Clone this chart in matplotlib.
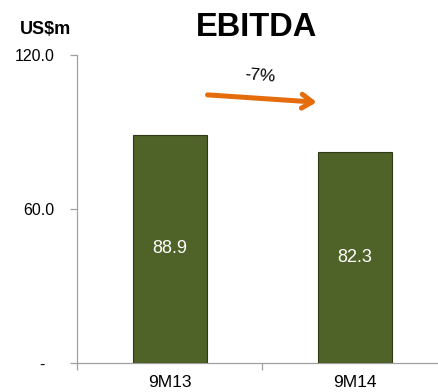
import matplotlib
matplotlib.use("Agg")
import matplotlib.pyplot as plt

categories = ["9M13", "9M14"]
ebitda = [88.9, 82.3]
y_ticks = [0, 60, 120]
y_tick_labels = ["-  ", "60.0", "120.0"]
change_label = "-7%"

plt.rcParams["font.family"] = ["Liberation Sans", "DejaVu Sans"]

fig = plt.figure(figsize=(4.38, 3.92), dpi=100)
ax = fig.add_axes([0.176, 0.074, 0.845, 0.786])

x = list(range(len(categories)))
bars = ax.bar(x, ebitda, width=0.4, color="#4F6228", edgecolor="#2E3A17", linewidth=0.8, zorder=3)
for xi, v in zip(x, ebitda):
    ax.text(xi, v / 2, f"{v:.1f}", color="white", ha="center", va="center", fontsize=13)

ax.set_xlim(-0.5, 1.5)
ax.set_ylim(0, 120)
ax.set_yticks(y_ticks)
ax.set_yticklabels(y_tick_labels, fontsize=11.5)
ax.set_xticks(x)
ax.set_xticklabels(categories, fontsize=12.5)
ax.set_xticks([-0.5, 0.5, 1.5], minor=True)
ax.tick_params(axis="x", which="major", length=0, pad=9)
ax.tick_params(axis="x", which="minor", length=5, color="#A0A0A0", width=0.9)
ax.tick_params(axis="y", length=5, color="#A0A0A0", width=0.9, pad=11)

for side in ("top", "right"):
    ax.spines[side].set_visible(False)
for side in ("left", "bottom"):
    ax.spines[side].set_color("#A0A0A0")
    ax.spines[side].set_linewidth(0.9)

# Year-on-year change arrow
ax.annotate("", xy=(0.81, 101.5), xytext=(0.19, 104.5),
            arrowprops=dict(arrowstyle="->,head_length=0.75,head_width=0.5",
                            color="#E46C0A", lw=3.6))
ax.text(0.49, 112, change_label, ha="center", va="center", fontsize=12.5, rotation=-5)

fig.text(0.585, 0.93, "EBITDA", ha="center", va="center", fontsize=23.5, fontweight="bold")
fig.text(0.045, 0.925, "US$m", ha="left", va="center", fontsize=13, fontweight="bold")

fig.savefig("out.png", dpi=100)
